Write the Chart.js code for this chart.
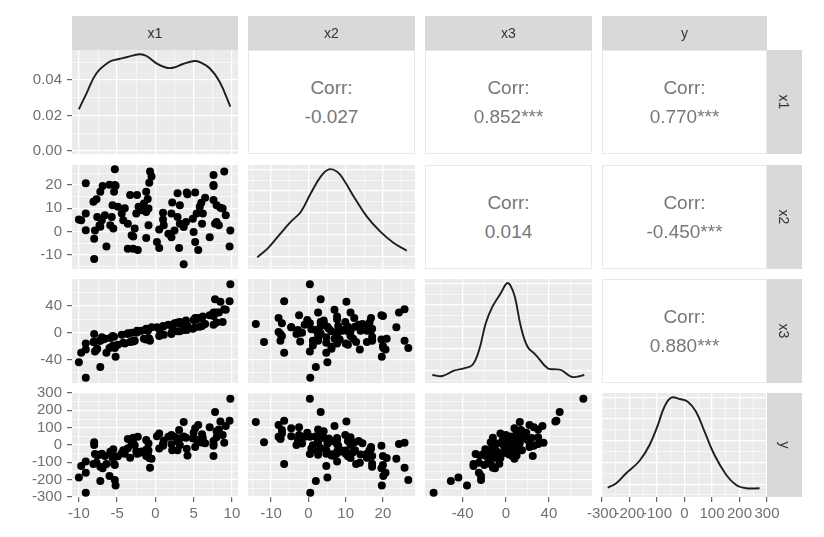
<!DOCTYPE html>
<html><head><meta charset="utf-8">
<script src="https://cdn.jsdelivr.net/npm/chart.js@4.4.1/dist/chart.umd.min.js"></script>
<style>
html,body{margin:0;padding:0;background:#fff;}
#wrap{position:relative;width:824px;height:537px;overflow:hidden;font-family:"Liberation Sans",Arial,sans-serif;}
canvas.layer{position:absolute;left:0;top:0;}
.strip{position:absolute;background:#d9d9d9;color:#333;font-size:14px;display:flex;align-items:center;justify-content:center;}
.strip.v span{transform:rotate(90deg);display:inline-block;}
.corr{position:absolute;background:#fff;border:1px solid #e9e9e9;box-sizing:border-box;color:#777;font-size:19px;}
.corr div{position:absolute;left:0;right:0;text-align:center;line-height:20px;}
</style></head>
<body><div id="wrap"></div>
<script>
// ---------------- data (100 observations) ----------------
const varNames = ['x1','x2','x3','y'];
const x1 = [-5.3,-0.7,-0.5,-0.8,9.0,7.6,-9.1,-6.9,-5.3,-5.4,-7.2,-1.2,-3.3,-2.4,2.9,4.1,5.2,7.6,7.6,-8.1,
 -7.7,-5.6,-4.9,-2.2,-1.5,-1.8,-1.2,-2.5,-0.9,3.2,6.0,8.0,8.8,-9.1,-10.0,-7.6,-7.0,-7.3,-7.9,-8.0,
 -6.6,-5.7,-5.9,-5.5,-4.4,-4.2,-3.6,-2.7,-3.1,-0.9,-1.2,-6.4,-8.0,0.2,0.5,1.0,2.1,1.0,1.1,1.7,
 2.1,2.5,2.9,3.2,3.7,4.0,3.1,3.7,5.4,4.9,5.8,5.0,5.2,5.6,6.2,6.1,7.1,8.0,8.3,9.8,
 9.7,-3.6,-2.9,-2.3,-9.7,-2.9,-9.1,-7.2,-5.2,7.8,8.5,4.2,7.6,-6.0,-1.0,0.5,-4.0,2.2,6.5,9.2];
const x2 = [26.8,25.8,23.6,21.0,25.8,24.3,20.7,19.6,20.0,17.1,17.1,17.1,15.7,15.7,16.4,16.8,16.8,19.6,13.5,12.8,
 13.8,11.3,10.6,10.6,12.0,9.1,8.4,7.7,9.9,11.3,12.3,11.3,9.9,7.7,5.1,6.2,4.8,2.6,0.4,-3.2,
 7.0,6.2,2.6,1.2,7.7,4.8,3.3,1.2,-1.7,2.6,-2.8,-6.5,-11.9,-4.6,-7.1,8.0,7.7,5.1,2.6,-1.0,
 -2.5,0.4,6.2,3.3,1.9,4.1,-7.1,-14.1,7.7,5.5,10.6,-0.3,-4.6,-8.0,7.7,3.3,-2.5,4.1,2.6,0.4,
 -6.5,-7.5,-7.5,-8.0,4.8,-2.2,0.5,2.0,19.7,3.3,10.2,16.0,20.0,20.1,14.0,0.8,10.0,12.5,14.5,7.0];
const x3 = [-23,-12,8,-9,35,30,-25,-10,-20,-6,-12,6,-14,3,15,4,22,26,12,-14,
 -25,-5,-18,2,-9,3,-10,0,5,2,22,30,16,-16,-44,-24,-7,-12,-28,-2,
 -9,-21,-8,-19,-3,-15,-1,-12,0,-8,4,-30,-14,8,-5,10,-2,9,-3,12,
 0,14,2,16,4,18,14,13,20,6,9,19,8,22,24,10,26,15,30,72,
 47,-2,-12,1,-30,-13,-67,-51,-36,50,46,10,25,-23,3,5,-16,9,13,34];
const y = [-202,-131,-80,-75,13,6,-160,-134,-116,-108,-125,-63,-73,-50,-30,-22,-11,-5,23,-110,
 -102,-75,-65,-48,-42,-37,-27,-37,-32,0,15,44,57,-95,-188,-60,-50,-56,-52,0,
 -64,-54,-39,-25,-47,-30,-19,-1,9,9,29,-110,16,51,67,-5,4,7,26,47,
 57,47,21,39,49,42,87,133,31,38,23,71,96,116,41,62,102,80,90,267,
 140,35,42,48,-121,12,-275,-208,-233,190,135,-60,-63,-179,-55,-20,-50,-30,10,110];

// density curves
const x1DensX = [-10,-9.0,-7.7,-6.0,-4.87,-3.77,-2.04,-1.16,0.14,1.45,2.3,3.6,5.1,5.8,7.1,8.4,9.8];
const x1DensY = [0.0235,0.0325,0.0438,0.0503,0.0517,0.0528,0.0545,0.0535,0.0494,0.0469,0.0469,0.049,0.0507,0.0501,0.0466,0.039,0.025];
const x2DensX = [-13.7,-10.9,-8.2,-4.7,-2.0,0.64,3.3,5.5,7.7,9.5,12.2,15.7,19.3,22.8,26.4];
const x2DensY = [0.112,0.199,0.311,0.455,0.551,0.728,0.888,0.958,0.936,0.856,0.695,0.503,0.359,0.253,0.176];
const x3DensX = [-68.2,-58.9,-48.1,-38.8,-31.0,-24.8,-18.6,-12.4,-4.7,0.9,4.0,8.4,14.0,20.2,27.9,38.8,44.9,51.2,60.5,66.7,72.8];
const x3DensY = [0.077,0.067,0.118,0.141,0.173,0.317,0.574,0.734,0.862,0.959,0.942,0.830,0.541,0.349,0.269,0.141,0.132,0.125,0.061,0.061,0.077];
const yDensX = [-279,-248,-212,-164,-127,-97,-73,-48,-18,12,42,73,109,152,188,224,273];
const yDensY = [0.089,0.132,0.228,0.346,0.5,0.692,0.868,0.955,0.942,0.917,0.82,0.628,0.404,0.212,0.115,0.084,0.084];

// correlation labels (upper triangle)
const corrText = {'0,1':'-0.027','0,2':'0.852***','0,3':'0.770***','1,2':'0.014','1,3':'-0.450***','2,3':'0.880***'};

// tick labels
const x1Ticks = [-10,-5,0,5,10];          const x1TickLabels = ['-10','-5','0','5','10'];
const x1Minor = [-7.5,-2.5,2.5,7.5];
const x2Ticks = [-10,0,10,20];            const x2TickLabels = ['-10','0','10','20'];
const x2Minor = [-15,-5,5,15,25];
const x3Ticks = [-40,0,40];               const x3TickLabels = ['-40','0','40'];
const x3Minor = [-60,-20,20,60];
const yTicks = [-300,-200,-100,0,100,200,300]; const yTickLabels = ['-300','-200','-100','0','100','200','300'];
const yMinor = [-250,-150,-50,50,150,250];
const densTicks = [0,0.02,0.04];          const densTickLabels = ['0.00','0.02','0.04'];
const densMinor = [0.01,0.03,0.05];
const relGridMajor = [0.12,0.33,0.54,0.75,0.96];
const relGridMinor = [0.02,0.225,0.435,0.645,0.855];

// ---------------- layout ----------------
const W = 824, H = 537;
const colL = [72,248,425,602], colR = [238,415,592,767];
const rowT = [50,165,279,393], rowB = [154,269,383,497];
const values = [x1,x2,x3,y];
const scaleInfo = [
  {min:-10.9,max:10.8,major:x1Ticks,minor:x1Minor,labels:x1TickLabels},
  {min:-16.2,max:28.6,major:x2Ticks,minor:x2Minor,labels:x2TickLabels},
  {min:-75,max:80,major:x3Ticks,minor:x3Minor,labels:x3TickLabels},
  {min:-300,max:300,major:yTicks,minor:yMinor,labels:yTickLabels}
];
const densRow0 = {min:-0.0017,max:0.0569,major:densTicks,minor:densMinor,labels:densTickLabels};
const relInfo = {min:0,max:1,major:relGridMajor,minor:relGridMinor,labels:null};
const diagLines = [[x1DensX,x1DensY],[x2DensX,x2DensY],[x3DensX,x3DensY],[yDensX,yDensY]];

const wrap = document.getElementById('wrap');
const FONT = {family:'"Liberation Sans", Arial, sans-serif', size:15};
const TICKCOL = '#707070';

const bgPlugin = {id:'panelBg', beforeDraw(chart){
  const a = chart.chartArea, ctx = chart.ctx;
  ctx.save(); ctx.fillStyle = '#ebebeb';
  ctx.fillRect(a.left, a.top, a.right-a.left, a.bottom-a.top); ctx.restore();
}};

function near(v, arr){ return arr.findIndex(t => Math.abs(t-v) < 1e-9); }

function makeScale(info, axis, labeled, size){
  const all = info.major.concat(info.minor).sort((a,b)=>a-b);
  return {
    type:'linear', position: axis==='x'?'bottom':'left',
    min:info.min, max:info.max, display:true,
    afterBuildTicks: s => { s.ticks = all.map(v => ({value:v})); },
    afterFit: s => { if(axis==='x') s.height = size; else s.width = size; },
    border:{display:false},
    grid:{
      color:'#ffffff',
      lineWidth: c => (c.tick && near(c.tick.value, info.major) >= 0) ? 1.3 : 0.6,
      drawTicks: labeled, tickLength:5, tickWidth:1.1,
      tickColor: c => (labeled && c.tick && near(c.tick.value, info.major) >= 0) ? '#555555' : 'rgba(0,0,0,0)'
    },
    ticks:{
      display: labeled, autoSkip:false, maxRotation:0, minRotation:0,
      padding: axis==='x'?3:5, color:TICKCOL, font:FONT,
      callback: v => { if(!info.labels) return ''; const i = near(v, info.major); return i<0 ? '' : info.labels[i]; }
    }
  };
}

function addPanel(r, c){
  const cv = document.createElement('canvas');
  cv.className = 'layer'; cv.width = W; cv.height = H;
  wrap.appendChild(cv);
  let datasets, yInfo;
  if (r === c){
    const [dx, dy] = diagLines[c];
    datasets = [{data: dx.map((v,i)=>({x:v, y:dy[i]})), showLine:true, pointRadius:0,
      borderColor:'#1e1e1e', borderWidth:1.9, tension:0.4, fill:false}];
    yInfo = (r === 0) ? densRow0 : relInfo;
  } else {
    const xv = values[c], yv = values[r];
    datasets = [{data: xv.map((v,i)=>({x:v, y:yv[i]})), pointRadius:4,
      pointBackgroundColor:'#000000', pointBorderWidth:0, showLine:false}];
    yInfo = scaleInfo[r];
  }
  const leftLab = (c === 0), botLab = (r === 3);
  new Chart(cv, {
    type:'scatter',
    data:{datasets},
    options:{
      responsive:false, animation:false, events:[], devicePixelRatio:1,
      layout:{padding:{left: leftLab?0:colL[c], right: W-colR[c], top: rowT[r], bottom: botLab?0:H-rowB[r]}},
      plugins:{legend:{display:false}, tooltip:{enabled:false}},
      scales:{
        x: makeScale(scaleInfo[c], 'x', botLab, botLab ? H-rowB[3] : 0),
        y: makeScale(yInfo, 'y', leftLab, leftLab ? colL[0] : 0)
      }
    },
    plugins:[bgPlugin]
  });
}

function addCorr(r, c){
  const d = document.createElement('div');
  d.className = 'corr';
  d.style.left = colL[c]+'px'; d.style.top = rowT[r]+'px';
  d.style.width = (colR[c]-colL[c])+'px'; d.style.height = (rowB[r]-rowT[r])+'px';
  const h = rowB[r]-rowT[r];
  const a = document.createElement('div'); a.textContent = 'Corr:'; a.style.top = (h/2-14-10-1)+'px';
  const b = document.createElement('div'); b.textContent = corrText[r+','+c]; b.style.top = (h/2+15-10-1)+'px';
  d.appendChild(a); d.appendChild(b); wrap.appendChild(d);
}

for (let r=0;r<4;r++) for (let c=0;c<4;c++){
  if (c > r) addCorr(r, c); else addPanel(r, c);
}
// strips
for (let c=0;c<4;c++){
  const s = document.createElement('div'); s.className='strip';
  s.style.left = colL[c]+'px'; s.style.top='16px';
  s.style.width=(colR[c]-colL[c])+'px'; s.style.height=(rowT[0]-16)+'px';
  s.textContent = varNames[c]; wrap.appendChild(s);
}
for (let r=0;r<4;r++){
  const s = document.createElement('div'); s.className='strip v';
  s.style.left = colR[3]+'px'; s.style.top=rowT[r]+'px';
  s.style.width='35px'; s.style.height=(rowB[r]-rowT[r])+'px';
  const sp = document.createElement('span'); sp.textContent = varNames[r]; s.appendChild(sp);
  wrap.appendChild(s);
}
</script>
</body></html>
